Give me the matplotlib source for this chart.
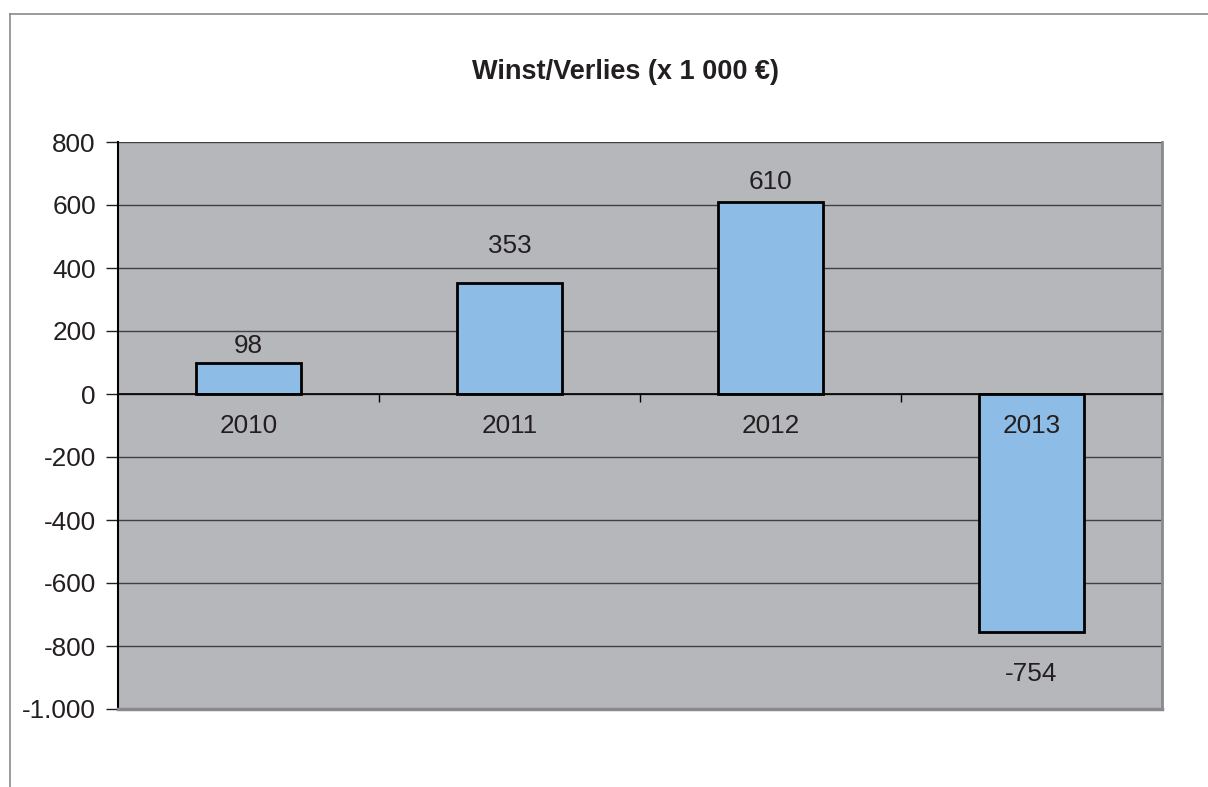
import matplotlib.pyplot as plt
from matplotlib.lines import Line2D
from matplotlib.ticker import FuncFormatter

# Data
years = ["2010", "2011", "2012", "2013"]
result = [98, 353, 610, -754]

# label offsets (pixels from bar end), as placed in the original
label_offsets = [17, 37, 20, -42]

plt.rcParams['font.family'] = ['Liberation Sans', 'DejaVu Sans']
text_color = '#231F20'

fig = plt.figure(figsize=(12.08, 7.87), dpi=100)
ax = fig.add_axes([118 / 1208, 1 - 709 / 787, (1162 - 118) / 1208, (709 - 142) / 787])

x = list(range(len(years)))
ax.bar(x, result, width=0.4, color='#8DBDE6', edgecolor='black', linewidth=2, zorder=3)

ax.set_xlim(-0.5, len(years) - 0.5)
ax.set_ylim(-1000, 800)
ax.set_facecolor('#B6B7BB')

# grid lines
ax.set_yticks(range(-1000, 801, 200))
ax.yaxis.grid(True, color='#3F3F44', linewidth=1)
ax.set_axisbelow(True)

def thousands(v, pos):
    return f"{int(v):,}".replace(",", ".")

ax.yaxis.set_major_formatter(FuncFormatter(thousands))
ax.tick_params(axis='y', labelsize=18.8, labelcolor=text_color, length=9, width=1,
               color='#231F20', pad=7)

# x axis sits on the zero line
ax.spines['bottom'].set_position(('data', 0))
ax.spines['bottom'].set_color('black')
ax.spines['bottom'].set_linewidth(1.2)
ax.spines['bottom'].set_zorder(4)
ax.spines['left'].set_color('black')
ax.spines['left'].set_linewidth(1.5)
ax.spines['right'].set_color('#8A8A8E')
ax.spines['right'].set_linewidth(2)
ax.spines['top'].set_visible(False)
ax.axhline(-1000, color='#8A8A8E', linewidth=2.5, zorder=5, clip_on=False)

ax.set_xticks(x)
ax.set_xticklabels([])
ax.set_xticks([i + 0.5 for i in x], minor=True)
ax.tick_params(axis='x', which='major', length=0)
ax.tick_params(axis='x', which='minor', length=6, width=1, color='black', direction='out')

# category labels just below the zero line, drawn over the bars
for xi, yr in zip(x, years):
    ax.annotate(yr, (xi, 0), xytext=(0, -32), textcoords='offset pixels',
                ha='center', va='center', fontsize=18.8, color=text_color, zorder=6)

# value labels
for xi, val, off in zip(x, result, label_offsets):
    ax.annotate(str(val), (xi, val), xytext=(0, off), textcoords='offset pixels',
                ha='center', va='center', fontsize=18.8, color=text_color, zorder=6)

fig.suptitle("Winst/Verlies (x 1 000 €)", x=626 / 1208, y=1 - 72 / 787, va='center',
             fontsize=19.5, fontweight='bold', color=text_color)

# outer chart border (top and left edge visible)
fig.add_artist(Line2D([10 / 1208, 10 / 1208], [0, 1 - 14 / 787], transform=fig.transFigure,
                      color='#8A8A8A', linewidth=1.2))
fig.add_artist(Line2D([10 / 1208, 1], [1 - 14 / 787, 1 - 14 / 787], transform=fig.transFigure,
                      color='#8A8A8A', linewidth=1.2))

fig.savefig('out.png', dpi=100)
